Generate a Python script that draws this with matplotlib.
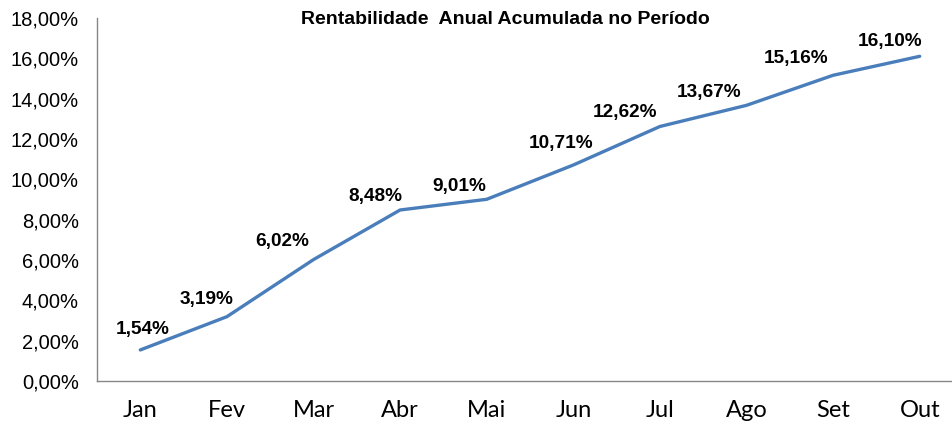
import matplotlib

matplotlib.use("Agg")
import matplotlib.pyplot as plt
from matplotlib.ticker import FuncFormatter

months = ["Jan", "Fev", "Mar", "Abr", "Mai", "Jun", "Jul", "Ago", "Set", "Out"]
returns = [1.54, 3.19, 6.02, 8.48, 9.01, 10.71, 12.62, 13.67, 15.16, 16.10]
y_ticks = [0, 2, 4, 6, 8, 10, 12, 14, 16, 18]

# label offsets in pixels (dx, dy) relative to each point
label_offsets = [(2, 20), (-20, 17), (-31, 18), (-25, 13), (-27, 13),
                 (-12, 22), (-35, 14), (-37, 13), (-37, 17), (-30, 15)]


def pct(v, _pos=None):
    return f"{v:.2f}".replace(".", ",") + "%"


fig = plt.figure(figsize=(9.53, 4.33), dpi=100)
ax = fig.add_axes([97 / 953, 1 - 381 / 433, 866 / 953, 363 / 433])

x = list(range(len(months)))
ax.plot(x, returns, color="#4A7EBB", linewidth=2.4, solid_capstyle="round")

for xi, v, (dx, dy) in zip(x, returns, label_offsets):
    ax.annotate(pct(v), (xi, v), xytext=(dx, dy), textcoords="offset pixels",
                ha="center", va="center", fontsize=13.7, fontweight="bold",
                family="Liberation Sans")

ax.set_xlim(-0.5, len(months) - 0.5)
ax.set_ylim(0, 18)
ax.set_yticks(y_ticks)
ax.yaxis.set_major_formatter(FuncFormatter(pct))
ax.set_xticks(x)
ax.set_xticklabels(months, family="Lato", fontsize=17)
for lbl in ax.get_yticklabels():
    lbl.set_family("Liberation Sans")
    lbl.set_fontsize(14.5)
ax.tick_params(axis="both", length=0)
ax.tick_params(axis="y", pad=13)
ax.tick_params(axis="x", pad=14)

for side in ("top", "right"):
    ax.spines[side].set_visible(False)
for side in ("left", "bottom"):
    ax.spines[side].set_color("#868686")
    ax.spines[side].set_linewidth(1.0)

fig.text(505 / 953, 1 - 19 / 433, "Rentabilidade  Anual Acumulada no Período",
         ha="center", va="center", fontsize=14, fontweight="bold",
         family="Liberation Sans")

fig.savefig("out.png", dpi=100)
